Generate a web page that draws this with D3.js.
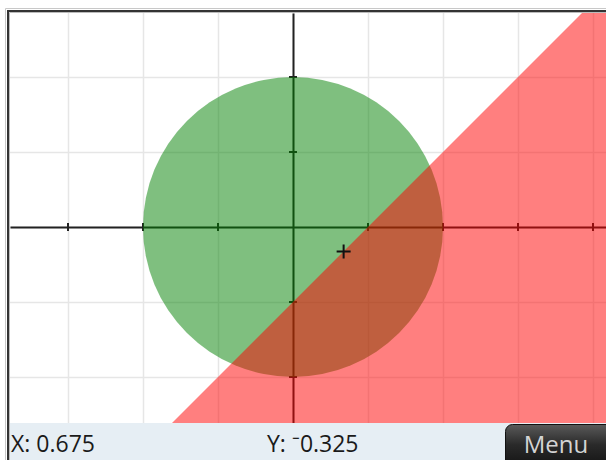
<!DOCTYPE html>
<html>
<head>
<meta charset="UTF-8" />
<script src="https://d3js.org/d3.v7.min.js"></script>
<style>
  body { margin: 0; background: #fff; }
  svg { display: block; }
  .status { font-family: "Open Sans", sans-serif; font-size: 23px; fill: #1a1a1a; }
  .menu-label { font-family: "Open Sans", sans-serif; font-size: 24px; fill: #d4d4d4; }
</style>
</head>
<body>
<svg id="svg" width="606" height="460"></svg>
<script>
// grid / tick positions (graph units)
const xTicks = [-3, -2, -1, 0, 1, 2, 3, 4];
const yTicks = [-2, -1, 0, 1, 2];
// region 1: x^2 + y^2 <= r^2
const circleCenter = [0, 0];
const circleRadius = 2;
// region 2: y < slope*x + intercept
const lineSlope = 1;
const lineIntercept = -1;
// trace cursor
const cursor = [0.675, -0.325];
const cursorLabels = ["X: 0.675", "Y: \u207B0.325"];

const svg = d3.select("svg#svg");
const width = 606, height = 460;
const plot = {left: 10, top: 13, right: 606, bottom: 423};

// 75 px per unit, origin at (293, 227)
const xScale = d3.scaleLinear().domain([(plot.left - 293) / 75, (plot.right - 293) / 75]).range([plot.left, plot.right]);
const yScale = d3.scaleLinear().domain([(227 - plot.bottom) / 75, (227 - plot.top) / 75]).range([plot.bottom, plot.top]);

svg.append("defs").append("clipPath").attr("id", "clip")
  .append("rect").attr("x", plot.left).attr("y", plot.top)
  .attr("width", plot.right - plot.left).attr("height", plot.bottom - plot.top);

const g = svg.append("g").attr("clip-path", "url(#clip)");

// gridlines
g.append("g").attr("class", "gridlines")
  .attr("transform", "translate(0," + plot.bottom + ")")
  .call(d3.axisBottom(xScale).tickValues(xTicks).tickSize(-(plot.bottom - plot.top)).tickFormat(""))
  .call(a => a.select(".domain").remove())
  .selectAll("line").attr("stroke", "#e6e6e6").attr("stroke-width", 1.5);
g.append("g").attr("class", "gridlines")
  .attr("transform", "translate(" + plot.left + ",0)")
  .call(d3.axisLeft(yScale).tickValues(yTicks).tickSize(-(plot.right - plot.left)).tickFormat(""))
  .call(a => a.select(".domain").remove())
  .selectAll("line").attr("stroke", "#e6e6e6").attr("stroke-width", 1.5);

// axes through origin
const axX = g.append("g").attr("transform", "translate(0," + yScale(0) + ")")
  .call(d3.axisBottom(xScale).tickValues(xTicks.filter(d => d !== 0)).tickSize(0).tickFormat(""));
axX.select(".domain").attr("stroke", "#222").attr("stroke-width", 2);
g.append("g").selectAll("line").data(xTicks.filter(d => d !== 0)).join("line")
  .attr("x1", d => xScale(d)).attr("x2", d => xScale(d))
  .attr("y1", yScale(0) - 4).attr("y2", yScale(0) + 4)
  .attr("stroke", "#222").attr("stroke-width", 2);

const axY = g.append("g").attr("transform", "translate(" + xScale(0) + ",0)")
  .call(d3.axisLeft(yScale).tickValues(yTicks.filter(d => d !== 0)).tickSize(0).tickFormat(""));
axY.select(".domain").attr("stroke", "#222").attr("stroke-width", 2);
g.append("g").selectAll("line").data(yTicks.filter(d => d !== 0)).join("line")
  .attr("y1", d => yScale(d)).attr("y2", d => yScale(d))
  .attr("x1", xScale(0) - 4).attr("x2", xScale(0) + 4)
  .attr("stroke", "#222").attr("stroke-width", 2);

// green disk
g.append("ellipse")
  .attr("cx", xScale(circleCenter[0])).attr("cy", yScale(circleCenter[1]))
  .attr("rx", xScale(circleRadius) - xScale(0)).attr("ry", yScale(0) - yScale(circleRadius))
  .attr("fill", "rgb(0,128,0)").attr("fill-opacity", 0.5);

// red half-plane below y = x - 1
const [x0, x1] = xScale.domain();
const [y0] = yScale.domain();
const halfPlane = [
  [(y0 - lineIntercept) / lineSlope, y0],
  [x1, lineSlope * x1 + lineIntercept],
  [x1, y0]
];
g.append("path")
  .attr("d", d3.line().x(d => xScale(d[0])).y(d => yScale(d[1]))(halfPlane) + "Z")
  .attr("fill", "rgb(255,0,0)").attr("fill-opacity", 0.5);

// cursor cross
const cx = xScale(cursor[0]), cy = yScale(cursor[1]);
g.append("path")
  .attr("d", `M${cx - 7},${cy}H${cx + 7}M${cx},${cy - 7}V${cy + 7}`)
  .attr("stroke", "#111").attr("stroke-width", 2);

// frame
svg.append("path").attr("d", "M5.5,460V8.5H606").attr("fill", "none").attr("stroke", "#c8c8c8").attr("stroke-width", 1);
svg.append("path").attr("d", "M8,460V11H606").attr("fill", "none").attr("stroke", "#333").attr("stroke-width", 2);
svg.append("path").attr("d", "M9.5,460V12.5H606").attr("fill", "none").attr("stroke", "#bbb").attr("stroke-width", 1);

// status bar
svg.append("rect").attr("x", 10).attr("y", plot.bottom).attr("width", width - 10).attr("height", height - plot.bottom)
  .attr("fill", "#e6eef4");
svg.append("text").attr("class", "status").attr("x", 11).attr("y", 452).text(cursorLabels[0]);
svg.append("text").attr("class", "status").attr("x", 267).attr("y", 452).text(cursorLabels[1]);

// menu button
const grad = svg.select("defs").append("linearGradient").attr("id", "btn").attr("x1", 0).attr("x2", 0).attr("y1", 0).attr("y2", 1);
grad.append("stop").attr("offset", "0%").attr("stop-color", "#5a5a5a");
grad.append("stop").attr("offset", "45%").attr("stop-color", "#2a2a2a");
grad.append("stop").attr("offset", "100%").attr("stop-color", "#111");
svg.append("rect").attr("x", 505.5).attr("y", 424.5).attr("width", 110).attr("height", 45).attr("rx", 7)
  .attr("fill", "url(#btn)").attr("stroke", "#111");
svg.append("text").attr("class", "menu-label").attr("x", 556).attr("y", 453).attr("text-anchor", "middle").text("Menu");
</script>
</body>
</html>
